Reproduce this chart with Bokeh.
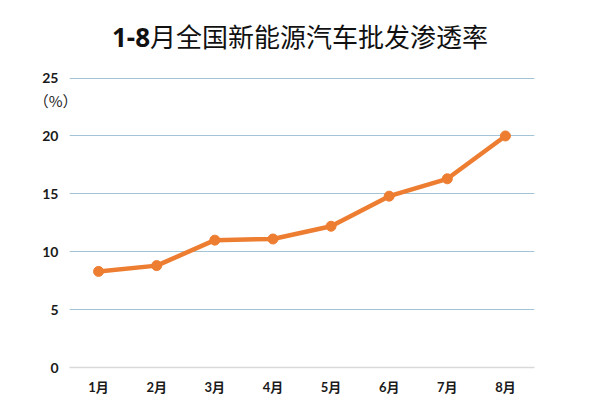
from bokeh.plotting import figure
from bokeh.models import FixedTicker, Range1d, ColumnDataSource, LinearAxis, Div
from bokeh.layouts import column
from bokeh.embed import file_html
from bokeh.resources import INLINE

months = ["1月", "2月", "3月", "4月", "5月", "6月", "7月", "8月"]
rates = [8.3, 8.8, 11.0, 11.1, 12.2, 14.8, 16.3, 20.0]
y_ticks = [0, 5, 10, 15, 20, 25]
title_bold = "1-8"
title_rest = "月全国新能源汽车批发渗透率"
unit_label = "（%）"
unit_pos = 23.1

xs = list(range(len(months)))
src = ColumnDataSource(dict(x=xs, y=rates))

title = Div(text=f'<span style="font-family:\'Noto Sans\',sans-serif;font-weight:bold">{title_bold}</span>'
                 f'<span style="font-family:\'Noto Sans CJK SC\',sans-serif">{title_rest}</span>',
            width=600, height=70, margin=(0, 0, 0, 0),
            styles={"font-size": "26px", "text-align": "center", "line-height": "72px",
                    "color": "#111111", "width": "600px"})

p = figure(width=600, height=348, output_backend="svg", toolbar_location=None,
           x_range=Range1d(-0.5, len(months) - 0.5), y_range=Range1d(0, 25.05),
           min_border_left=69, min_border_right=66, min_border_top=7, min_border_bottom=51,
           margin=(0, 0, 0, 0))
p.outline_line_color = None
p.background_fill_color = "white"
p.border_fill_color = "white"

font = "Lato, 'Noto Sans CJK SC', sans-serif"

p.xaxis.ticker = FixedTicker(ticks=xs)
p.xaxis.major_label_overrides = {i: m for i, m in enumerate(months)}
p.xaxis.axis_line_color = "#d9d9d9"
p.xaxis.axis_line_width = 1.5
p.xaxis.major_tick_line_color = None
p.xaxis.minor_tick_line_color = None
p.xaxis.major_label_standoff = 5
p.xaxis.major_label_text_font = font
p.xaxis.major_label_text_font_style = "bold"
p.xaxis.major_label_text_font_size = "13px"
p.xaxis.major_label_text_color = "#1a1a1a"

p.yaxis.ticker = FixedTicker(ticks=y_ticks)
p.yaxis.axis_line_color = None
p.yaxis.major_tick_line_color = None
p.yaxis.minor_tick_line_color = None
p.yaxis.major_label_standoff = 5
p.yaxis.major_label_text_font = font
p.yaxis.major_label_text_font_style = "bold"
p.yaxis.major_label_text_font_size = "14px"
p.yaxis.major_label_text_color = "#1a1a1a"

unit_axis = LinearAxis(ticker=FixedTicker(ticks=[unit_pos]),
                       major_label_overrides={unit_pos: unit_label},
                       axis_line_color=None, major_tick_line_color=None, minor_tick_line_color=None,
                       major_label_standoff=-44,
                       major_label_text_font="'Noto Sans CJK SC', sans-serif",
                       major_label_text_font_size="15px", major_label_text_color="#222222")
p.add_layout(unit_axis, "left")

p.xgrid.grid_line_color = None
p.ygrid.ticker = FixedTicker(ticks=y_ticks[1:])
p.ygrid.grid_line_color = "#a3c3d6"
p.ygrid.grid_line_width = 1.2

p.line("x", "y", source=src, line_color="#ed7d31", line_width=4.5)
p.scatter("x", "y", source=src, size=10, fill_color="#ed7d31", line_color="#ed7d31")

layout = column(title, p, spacing=0)
open("out.html", "w").write(file_html(layout, INLINE))
